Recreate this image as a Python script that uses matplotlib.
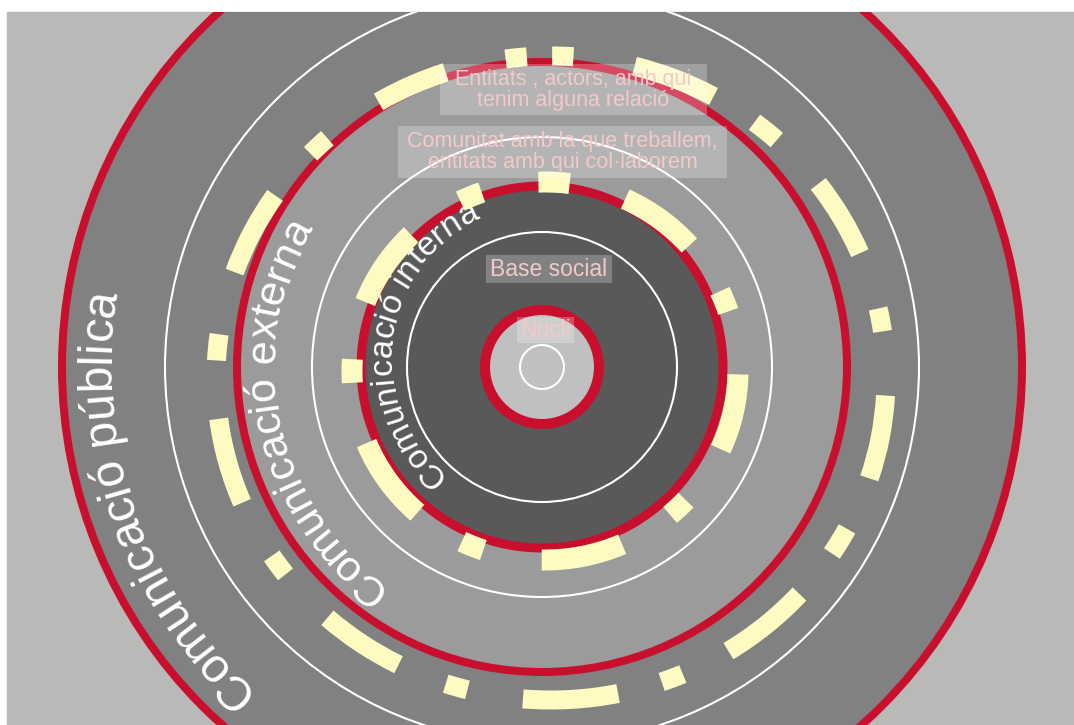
import numpy as np
import matplotlib
matplotlib.use("Agg")
import matplotlib.pyplot as plt
from matplotlib.patches import Circle, Arc, Rectangle
from matplotlib import font_manager
from matplotlib.ft2font import FT2Font

W, H, DPI = 1074, 725, 100
CX, CY = 542, 367          # centre of the rings, pixels from top-left
FONT = "Liberation Sans"

# filled rings, outer -> inner
RING_RADII = [480, 305, 181, 57]
RING_FILLS = ["#818181", "#9b9b9b", "#595959", "#c0c0c0"]
RING_EDGE_PX = [8, 8, 9, 10]
WHITE_RADII = [377, 230, 135, 22]

# yellow dashes, (start, end) in degrees counter-clockwise from 3 o'clock
DASHES_OUTER = [(94.3, 98.1), (86, 89.8), (60, 75), (46.5, 51.5), (22, 36),
                (8, 12), (-17.5, -3), (-32, -27), (-57, -41), (-70, -66),
                (-95, -78), (-109, -105), (-133, -118), (-147.5, -143.5),
                (-173, -158), (172.5, 177), (146.5, 161.5), (133, 137), (109, 122)]
DASHES_INNER = [(82.5, 92), (41, 65), (18, 24.5), (-24, -1), (-49, -42.5),
                (-91, -66), (-116, -109), (-158, -132), (176.5, 183.5),
                (134.5, 159), (109.5, 116.5)]

# curved ring titles (baseline radius drifts from start to end)
ARC_TEXTS = ["Comunicació pública", "Comunicació externa", "Comunicació interna"]
ARC_START = [-131.5, -125, -131]
ARC_R0 = [432, 268, 143]
ARC_R1 = [432, 268, 162]
ARC_SIZE = [34.5, 31, 24.5]

# boxed labels
BOX_TEXTS = ["Entitats , actors, amb qui\ntenim alguna relació",
             "Comunitat amb la que treballem,\nentitats amb qui col·laborem",
             "Base social", "Nucli"]

RED = "#c8102e"
YELLOW = "#fdfac2"
BG = "#b9b9b7"
PINK = "#f3c9cb"


def py(y):
    return H - y


def arc_text(ax, text, r0, r1, start, size_pt, clip):
    fp = font_manager.FontProperties(family=FONT)
    font = FT2Font(font_manager.findfont(fp))
    font.set_size(size_pt, DPI)
    advs = [font.load_char(ord(ch)).linearHoriAdvance / 65536 for ch in text]
    total = sum(advs)
    ang = np.radians(start)
    pos = 0.0
    for ch, adv in zip(text, advs):
        r = r0 + (r1 - r0) * (pos + adv / 2) / total
        a = ang - (adv / 2) / r
        x = CX + r * np.cos(a)
        y = py(CY) + r * np.sin(a)
        t = ax.text(x, y, ch, rotation=np.degrees(a) - 90, rotation_mode="anchor",
                    ha="center", va="baseline", fontsize=size_pt, color="white",
                    family=FONT)
        t.set_clip_path(clip)
        ang -= adv / r
        pos += adv


fig = plt.figure(figsize=(W / DPI, H / DPI), dpi=DPI)
ax = fig.add_axes([0, 0, 1, 1])
ax.set_xlim(0, W)
ax.set_ylim(0, H)
ax.set_aspect("equal")
ax.axis("off")

bg = Rectangle((7, 0), W - 7, H - 12, color=BG, zorder=0)
ax.add_patch(bg)

for r, c in zip(RING_RADII, RING_FILLS):
    p = ax.add_patch(Circle((CX, py(CY)), r, color=c, lw=0, zorder=1))
    p.set_clip_path(bg)

for r in WHITE_RADII:
    p = ax.add_patch(Circle((CX, py(CY)), r, fill=False, ec="white", lw=1.5, zorder=2))
    p.set_clip_path(bg)

for r, w in zip(RING_RADII, RING_EDGE_PX):
    p = ax.add_patch(Circle((CX, py(CY)), r, fill=False, ec=RED, lw=w * 0.72, zorder=3))
    p.set_clip_path(bg)

# dash rings are slightly off-centre ellipses
for (cx, cy, rx, ry, th), dashes in [((551, 378, 335, 322, 19), DASHES_OUTER),
                                      ((545, 371, 193, 189, 21), DASHES_INNER)]:
    for a, b in dashes:
        p = ax.add_patch(Arc((cx, py(cy)), 2 * rx, 2 * ry, theta1=a, theta2=b,
                             color=YELLOW, lw=th * 0.72, capstyle="butt", zorder=4))
        p.set_clip_path(bg)

for txt, st, r0, r1, s in zip(ARC_TEXTS, ARC_START, ARC_R0, ARC_R1, ARC_SIZE):
    arc_text(ax, txt, r0, r1, st, s, bg)

boxes = [(440, 64, 707, 115, 15.5), (398, 126, 727, 178, 15.5),
         (486, 255, 612, 283, 16.5), (517, 317, 574, 343, 16.5)]
for txt, (x0, y0, x1, y1, fs) in zip(BOX_TEXTS, boxes):
    ax.add_patch(Rectangle((x0, py(y1)), x1 - x0, y1 - y0, fc="white", alpha=0.25,
                           lw=0, zorder=5))
    ax.text((x0 + x1) / 2, py((y0 + y1) / 2), txt, ha="center", va="center",
            fontsize=fs, color=PINK, family=FONT, linespacing=1.0, zorder=6)

fig.savefig("out.png", dpi=DPI, facecolor="white")
